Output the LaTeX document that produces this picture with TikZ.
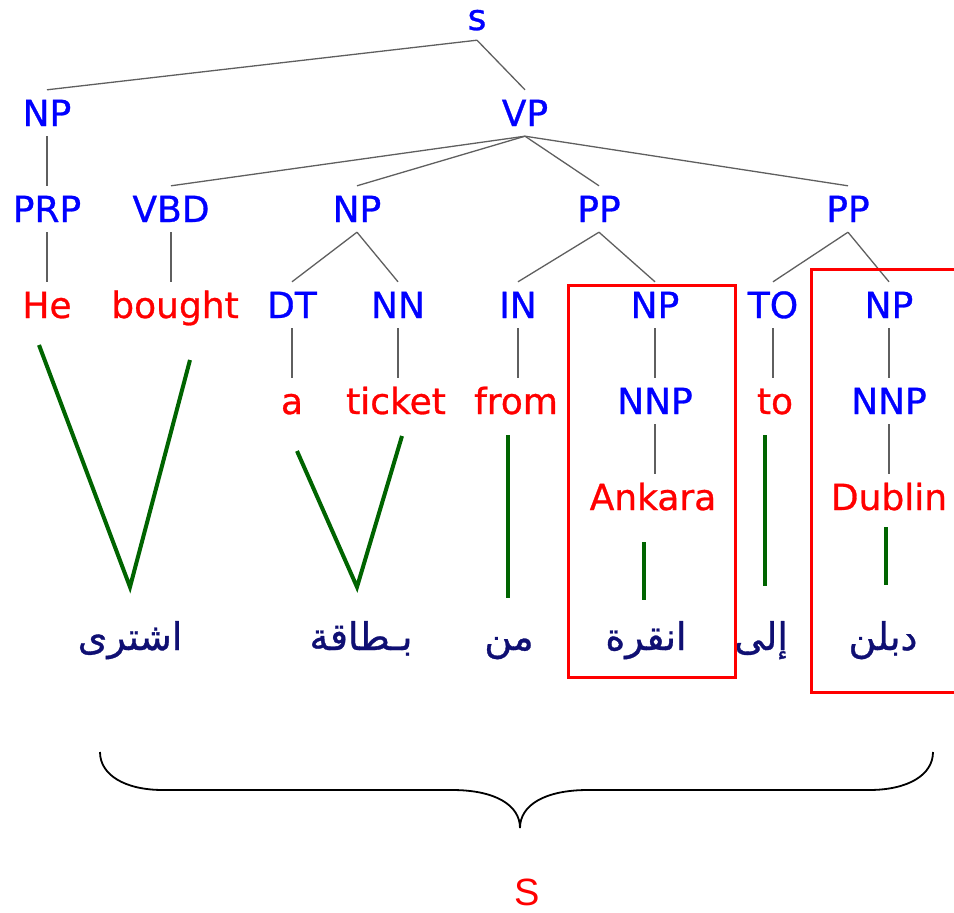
\documentclass[tikz,border=0pt]{standalone}
\usepackage{fontspec}
\setmainfont{DejaVu Sans}
\newfontfamily\treefont{DejaVu Sans}[BoldFont=DejaVu Sans, BoldFeatures={FakeBold=0.8}]
\newfontfamily\arabicfont[Script=Arabic, BoldFont=DejaVu Sans, BoldFeatures={FakeBold=0.8}]{DejaVu Sans}
\newfontfamily\labelfont{Liberation Sans}
\TeXXeTstate=1
\definecolor{catblue}{RGB}{0,0,255}
\definecolor{wordred}{RGB}{255,0,0}
\definecolor{aligngreen}{RGB}{0,100,0}
\definecolor{edgegray}{RGB}{95,95,95}
\definecolor{arnavy}{RGB}{15,15,115}
\begin{document}
\begin{tikzpicture}[x=1pt,y=-1pt,
  lbl/.style={font=\fontsize{36}{40}\selectfont\treefont\bfseries, text height=26pt, text depth=0pt,
    inner xsep=0pt, inner ysep=10pt, anchor=base},
  cat/.style={lbl, text=catblue},
  word/.style={lbl, text=wordred},
  arword/.style={font=\fontsize{38}{42}\selectfont\arabicfont\bfseries, text=arnavy, inner sep=0pt, anchor=base},
  edge/.style={draw=edgegray, line width=1.3pt},
  align/.style={draw=aligngreen, line width=4pt},
  box/.style={draw=wordred, line width=3pt},
  brace/.style={draw=black, line width=1.8pt}]
\useasboundingbox (0,0) rectangle (954,913);

% category labels
\node[cat] (s)    at (477,30)  {s};
\node[cat] (np1)  at (47,126)  {NP};
\node[cat] (vp)   at (525,126) {VP};
\node[cat] (prp)  at (47,222)  {PRP};
\node[cat] (vbd)  at (171,222) {VBD};
\node[cat] (np2)  at (357,222) {NP};
\node[cat] (pp1)  at (599,222) {PP};
\node[cat] (pp2)  at (848,222) {PP};
\node[cat] (dt)   at (292,318) {DT};
\node[cat] (nn)   at (398,318) {NN};
\node[cat] (in)   at (518,318) {IN};
\node[cat] (np3)  at (655,318) {NP};
\node[cat] (to)   at (773,318) {TO};
\node[cat] (np4)  at (889,318) {NP};
\node[cat] (nnp1) at (655,414) {NNP};
\node[cat] (nnp2) at (889,414) {NNP};

% English words
\node[word] (he)     at (47,318)  {He};
\node[word] (bought) at (175,318) {bought};
\node[word] (a)      at (292,414) {a};
\node[word] (ticket) at (396,414) {ticket};
\node[word] (from)   at (516,414) {from};
\node[word] (tow)    at (775,414) {to};
\node[word] (ankara) at (653,510) {Ankara};
\node[word] (dublin) at (889,510) {Dublin};

% Arabic words
\node[arword] (ar1) at (130,650) {\beginR اشترى\endR};
\node[arword] (ar2) at (361,650) {\beginR بـطاقة\endR};
\node[arword] (ar3) at (509,650) {\beginR من\endR};
\node[arword] (ar4) at (646,650) {\beginR انقرة\endR};
\node[arword] (ar5) at (761,650) {\beginR إلى\endR};
\node[arword] (ar6) at (883,650) {\beginR دبلن\endR};

% tree edges: branching
\draw[edge] (s.south) -- (np1.north);
\draw[edge] (s.south) -- (vp.north);
\draw[edge] (vp.south) -- (vbd.north);
\draw[edge] (vp.south) -- (np2.north);
\draw[edge] (vp.south) -- (pp1.north);
\draw[edge] (vp.south) -- (pp2.north);
\draw[edge] (np2.south) -- (dt.north);
\draw[edge] (np2.south) -- (nn.north);
\draw[edge] (pp1.south) -- (in.north);
\draw[edge] (pp1.south) -- (np3.north);
\draw[edge] (pp2.south) -- (to.north);
\draw[edge] (pp2.south) -- (np4.north);
% tree edges: single child, straight down
\draw[edge] (np1.south) -- (np1.south |- prp.north);
\draw[edge] (prp.south) -- (prp.south |- he.north);
\draw[edge] (vbd.south) -- (vbd.south |- bought.north);
\draw[edge] (dt.south) -- (dt.south |- a.north);
\draw[edge] (nn.south) -- (nn.south |- ticket.north);
\draw[edge] (in.south) -- (in.south |- from.north);
\draw[edge] (np3.south) -- (np3.south |- nnp1.north);
\draw[edge] (to.south) -- (to.south |- tow.north);
\draw[edge] (np4.south) -- (np4.south |- nnp2.north);
\draw[edge] (nnp1.south) -- (nnp1.south |- ankara.north);
\draw[edge] (nnp2.south) -- (nnp2.south |- dublin.north);

% word alignment ends
\coordinate (he-e)     at (39,345);
\coordinate (bought-e) at (190,360);
\coordinate (ar1-e)    at (130,587);
\coordinate (a-e)      at (297,451);
\coordinate (ticket-e) at (402,436);
\coordinate (ar2-e)    at (357,587);
\coordinate (from-e)   at (508,435);
\coordinate (ar3-e)    at (508,598);
\coordinate (ankara-e) at (644,542);
\coordinate (ar4-e)    at (644,600);
\coordinate (to-e)     at (765,435);
\coordinate (ar5-e)    at (765,586);
\coordinate (dublin-e) at (886,527);
\coordinate (ar6-e)    at (886,585);

% word alignments
\draw[align] (he-e) -- (ar1-e) -- (bought-e);
\draw[align] (a-e) -- (ar2-e) -- (ticket-e);
\draw[align] (from-e) -- (ar3-e);
\draw[align] (ankara-e) -- (ar4-e);
\draw[align] (to-e) -- (ar5-e);
\draw[align] (dublin-e) -- (ar6-e);

% phrase boxes
\draw[box] (568,285) rectangle (735,677);
\draw[box] (960,269) -- (811,269) -- (811,692) -- (960,692);

% sentence brace
\draw[brace] (100,752) .. controls (100,775) and (125,790) .. (163,790)
  -- (452,790) .. controls (495,790) and (520,805) .. (520,828)
  .. controls (520,805) and (545,790) .. (588,790)
  -- (869,790) .. controls (908,790) and (933,775) .. (933,752);
\node[font=\fontsize{38}{42}\selectfont\labelfont, text=wordred, anchor=base, inner sep=0pt]
  (slabel) at (527,905) {S};
\end{tikzpicture}
\end{document}
